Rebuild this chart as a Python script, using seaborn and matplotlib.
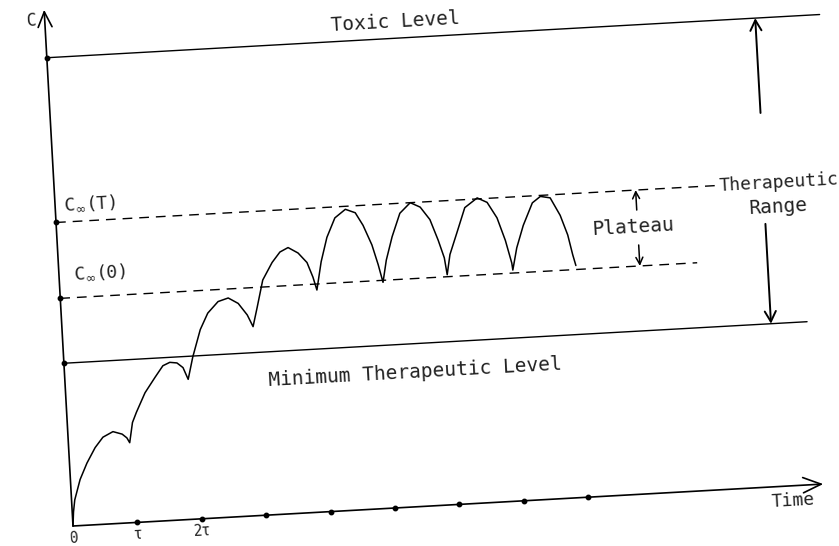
import matplotlib
matplotlib.use('Agg')
import matplotlib.pyplot as plt
import seaborn as sns
import pandas as pd
from matplotlib.transforms import Affine2D

# concentration after repeated doses
# time in units of the dosing interval tau, C in arbitrary units
time_pts = [0.00, 0.02, 0.05, 0.15, 0.27, 0.41, 0.54, 0.70, 0.84, 0.91, 0.95,
            1.01, 1.08, 1.23, 1.40, 1.53, 1.64, 1.75, 1.84, 1.91,
            2.00, 2.14, 2.27, 2.44, 2.60, 2.75, 2.88, 2.96,
            3.04, 3.15, 3.31, 3.44, 3.57, 3.72, 3.85, 3.93, 3.98,
            4.07, 4.18, 4.32, 4.49, 4.64, 4.75, 4.87, 4.95, 5.01,
            5.08, 5.19, 5.33, 5.50, 5.65, 5.79, 5.90, 5.98, 6.01,
            6.07, 6.20, 6.34, 6.54, 6.69, 6.83, 6.94, 7.02, 7.03,
            7.11, 7.23, 7.39, 7.52, 7.67, 7.81, 7.91, 7.97, 8.01]
conc_pts = [0.00, 0.14, 0.26, 0.46, 0.62, 0.77, 0.87, 0.92, 0.89, 0.85, 0.80,
            1.00, 1.10, 1.29, 1.44, 1.55, 1.58, 1.57, 1.52, 1.40,
            1.62, 1.89, 2.05, 2.16, 2.19, 2.13, 2.01, 1.89,
            2.08, 2.35, 2.52, 2.62, 2.66, 2.60, 2.50, 2.35, 2.22,
            2.50, 2.74, 2.93, 3.01, 2.97, 2.84, 2.64, 2.44, 2.26,
            2.48, 2.71, 2.94, 3.04, 2.99, 2.86, 2.65, 2.47, 2.30,
            2.50, 2.72, 2.96, 3.05, 3.00, 2.84, 2.61, 2.38, 2.31,
            2.53, 2.75, 2.97, 3.03, 3.01, 2.83, 2.63, 2.43, 2.32]

toxic_level = 4.69
cinf_top = 3.04
cinf_bottom = 2.28
min_ther_level = 1.63
dose_ticks = [1, 2, 3, 4, 5, 6, 7, 8]
tick_pos = [0, 1, 2]
tick_labels = ['0', 'τ', '2τ']

SKEW = 3.2  # the scanned page is tilted a bit

sns.set_theme(style='white')
plt.rcParams['font.family'] = ['DejaVu Sans Mono', 'DejaVu Sans']

fig = plt.figure(figsize=(8.39, 5.46), dpi=100)
ax = fig.add_axes([0, 0, 1, 1])
XLIM = (-73 / 64.5, (839 - 73) / 64.5)
YLIM = (-0.2, 5.26)
ax.set_xlim(*XLIM)
ax.set_ylim(*YLIM)

ox, oy = ax.transData.transform((0, 0))
tr = ax.transData + Affine2D().rotate_deg_around(ox, oy, SKEW)

df = pd.DataFrame({'t': time_pts, 'C': conc_pts})
sns.lineplot(data=df, x='t', y='C', sort=False, estimator=None, color='black',
             lw=1.1, transform=tr, ax=ax, clip_on=False, solid_joinstyle='round')

line_kw = dict(color='black', lw=1.0, transform=tr, clip_on=False)
ax.plot([0, 12.0], [toxic_level] * 2, **line_kw)
ax.plot([0, 11.54], [min_ther_level] * 2, **line_kw)
ax.plot([0, 10.31], [cinf_top] * 2, ls=(0, (7, 5)), **line_kw)
ax.plot([0, 9.89], [cinf_bottom] * 2, ls=(0, (7, 5)), **line_kw)

# axes and the range arrows, open heads
def arrow(x0, y0, x1, y1, hl, hw, lw=1.2):
    ax.annotate('', xy=(x1, y1), xytext=(x0, y0), xycoords=tr, textcoords=tr,
                arrowprops=dict(arrowstyle=f'->,head_length={hl},head_width={hw}',
                                color='black', lw=lw, shrinkA=0, shrinkB=0,
                                mutation_scale=10))

arrow(0, 0, 11.65, 0, 1.3, 0.55)
arrow(0, 0, 0, 5.17, 1.1, 0.5)
arrow(11.0, 3.74, 11.0, toxic_level, 0.75, 0.4, lw=1.4)
arrow(10.98, 2.63, 10.98, min_ther_level, 0.75, 0.4, lw=1.4)
arrow(9.0, 2.84, 9.0, cinf_top, 0.5, 0.25, lw=1.1)
arrow(9.0, 2.49, 9.0, cinf_bottom, 0.5, 0.25, lw=1.1)

# dots on the axes
ax.plot(dose_ticks, [0] * len(dose_ticks), 'o', ms=3.2, color='black', transform=tr, clip_on=False)
levels = [toxic_level, cinf_top, cinf_bottom, min_ther_level]
ax.plot([0] * len(levels), levels, 'o', ms=3.2, color='black', transform=tr, clip_on=False)

def label(x, y, s, size=14, ha='center'):
    ax.text(x, y, s, transform=tr, rotation=SKEW, rotation_mode='anchor',
            ha=ha, va='center', fontsize=size, color='#222222')

label(-0.20, 5.07, 'C', 12)
label(5.42, 4.85, 'Toxic Level')
label(0.54, 3.22, r'C$_\infty$(T)', 13)
label(0.64, 2.52, r'C$_\infty$(0)', 13)
label(8.93, 2.67, 'Plateau')
label(11.23, 3.03, 'Therapeutic', 13)
label(11.19, 2.79, 'Range')
label(5.43, 1.34, 'Minimum Therapeutic Level')
label(11.17, -0.15, 'Time', 13)
for p, s in zip(tick_pos, tick_labels):
    label(p, -0.12, s, 10.5)

ax.set_xlim(*XLIM)
ax.set_ylim(*YLIM)
ax.axis('off')

fig.savefig('out.png', dpi=100)
